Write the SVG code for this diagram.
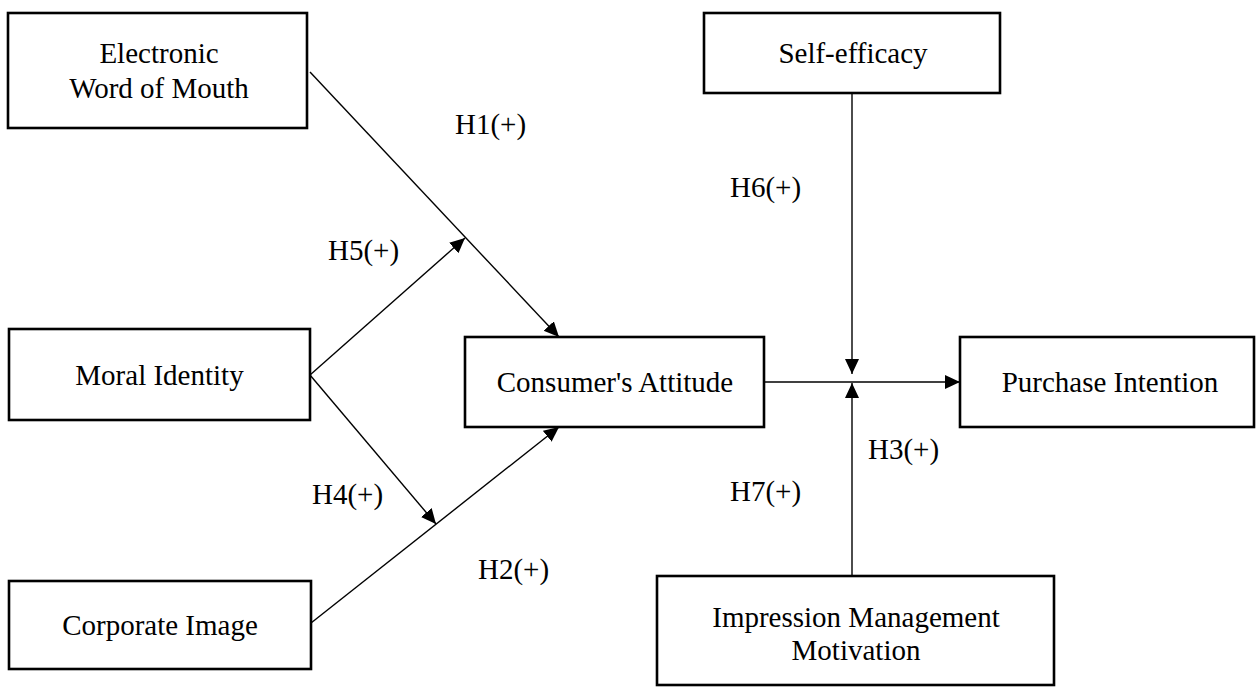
<svg xmlns="http://www.w3.org/2000/svg" width="1259" height="688" viewBox="0 0 1259 688">
<style>
.box{fill:#fff;stroke:#000;stroke-width:2.6}
.t{font-family:"Liberation Serif","Times New Roman",serif;font-size:29px;fill:#000;text-anchor:middle}
.l{font-family:"Liberation Serif","Times New Roman",serif;font-size:29px;fill:#000}
.c{stroke:#000;stroke-width:1.4;fill:none;marker-end:url(#ah)}
</style>
<defs>
<marker id="ah" markerUnits="userSpaceOnUse" markerWidth="17" markerHeight="16" refX="15" refY="7" orient="auto">
<path d="M0,0 L15,7 L0,14 z" fill="#000"/>
</marker>
</defs>
<rect width="1259" height="688" fill="#fff"/>
<g id="connectors">
<line class="c" x1="310" y1="72" x2="559" y2="337"/>
<line class="c" x1="310" y1="375" x2="465" y2="238"/>
<line class="c" x1="310" y1="375" x2="436" y2="524"/>
<line class="c" x1="311" y1="623" x2="559" y2="427"/>
<line class="c" x1="764" y1="382" x2="960" y2="382"/>
<line class="c" x1="852" y1="93" x2="852" y2="374"/>
<line class="c" x1="852" y1="575" x2="852" y2="383"/>
</g>
<g id="labels">
<text class="l" x="455" y="134">H1(+)</text>
<text class="l" x="328" y="260">H5(+)</text>
<text class="l" x="730" y="197">H6(+)</text>
<text class="l" x="312" y="504">H4(+)</text>
<text class="l" x="478" y="579">H2(+)</text>
<text class="l" x="868" y="459">H3(+)</text>
<text class="l" x="730" y="501">H7(+)</text>
</g>
<g id="ewom"><rect class="box" x="8" y="13" width="299" height="115"/><text class="t" x="159" y="63">Electronic</text><text class="t" x="159" y="98">Word of Mouth</text></g>
<g id="moral"><rect class="box" x="9" y="329" width="301" height="91"/><text class="t" x="159.5" y="385">Moral Identity</text></g>
<g id="corporate"><rect class="box" x="9" y="581" width="302" height="88"/><text class="t" x="160" y="635">Corporate Image</text></g>
<g id="attitude"><rect class="box" x="465" y="337" width="299" height="90"/><text class="t" x="615" y="392">Consumer's Attitude</text></g>
<g id="purchase"><rect class="box" x="960" y="337" width="294" height="90"/><text class="t" x="1110" y="392">Purchase Intention</text></g>
<g id="selfefficacy"><rect class="box" x="704" y="13" width="296" height="80"/><text class="t" x="853" y="63">Self-efficacy</text></g>
<g id="imm"><rect class="box" x="657" y="576" width="397" height="109"/><text class="t" x="856" y="627">Impression Management</text><text class="t" x="856" y="660">Motivation</text></g>
</svg>
